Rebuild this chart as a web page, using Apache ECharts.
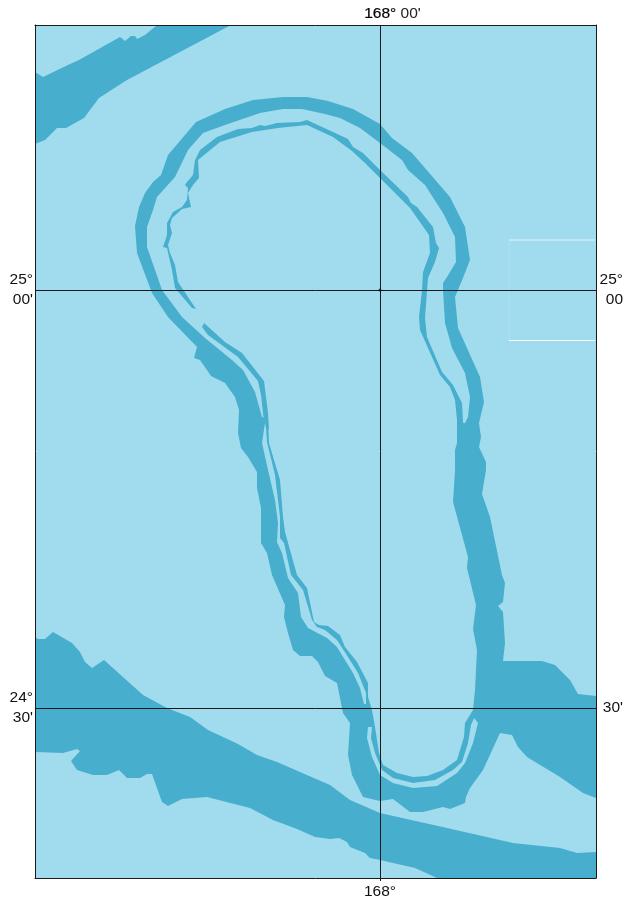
<!DOCTYPE html>
<html><head><meta charset="utf-8">
<style>html,body{margin:0;padding:0;background:#fff}#c{width:623px;height:901px}</style>
<script src="https://cdn.jsdelivr.net/npm/echarts@6/dist/echarts.min.js"></script>
</head><body><div id="c"></div>
<script>
// Map grid units: easting from 168 deg, northing from 25 deg; 418 units = 30 minutes of latitude.
const eastExtent = [-345, 216];
const northExtent = [-588, 265];
const lonTicks = [0];
const latTicks = [0, -418];
const bottomLabels = ["168°"];
const leftLabels = ["25°\n00'", "24°\n30'"];
const rightLabels = ["25°\n00", "30'"];

const shelfNorthwest = [[-345,218],[-337,213],[-310,226],[-301,230],[-260,253],[-255,249],[-249,254],[-245,254],[-243,251],[-235,255],[-224,264],[-224,265],[-149,265],[-253,210],[-281,192],[-296,172],[-314,162],[-323,162],[-335,150],[-345,146]];
const ringOuter = [[-97,193],[-73,193],[-52,189],[-27,181],[0,166],[12,152],[32,137],[70,93],[85,63],[90,30],[83,12],[75,-7],[78,-38],[100,-87],[104,-112],[99,-133],[101,-147],[99,-157],[106,-172],[106,-180],[102,-204],[110,-227],[122,-285],[125,-293],[123,-312],[118,-316],[123,-322],[125,-353],[123,-371],[123,-410],[120,-443],[103,-480],[90,-498],[86,-507],[85,-513],[70,-519],[63,-517],[43,-522],[30,-522],[13,-509],[0,-511],[-17,-507],[-28,-485],[-32,-465],[-30,-433],[-37,-423],[-43,-393],[-55,-386],[-62,-372],[-68,-366],[-80,-366],[-87,-360],[-92,-343],[-96,-327],[-95,-315],[-108,-285],[-113,-263],[-119,-253],[-119,-218],[-123,-198],[-123,-182],[-132,-167],[-139,-158],[-142,-143],[-141,-120],[-145,-107],[-155,-93],[-169,-86],[-180,-70],[-186,-68],[-183,-57],[-212,-27],[-228,-3],[-243,37],[-245,64],[-241,83],[-235,97],[-227,108],[-219,115],[-212,135],[-184,168],[-155,181],[-127,190]];
const ringHollow = [[-97,181],[-78,181],[-55,176],[-40,172],[-20,162],[0,147],[22,130],[28,120],[45,105],[63,77],[75,53],[76,28],[67,13],[63,7],[63,0],[65,-33],[72,-58],[85,-83],[90,-107],[88,-127],[85,-133],[77,-135],[77,-153],[75,-160],[75,-180],[73,-212],[88,-267],[87,-278],[96,-315],[93,-339],[97,-360],[95,-400],[93,-420],[85,-433],[84,-447],[77,-470],[63,-480],[47,-486],[33,-487],[17,-483],[3,-475],[-1,-463],[-5,-437],[-8,-420],[-12,-407],[-12,-393],[-23,-372],[-35,-357],[-40,-345],[-52,-336],[-61,-335],[-66,-332],[-73,-298],[-83,-285],[-95,-242],[-97,-227],[-100,-190],[-111,-153],[-112,-130],[-118,-127],[-125,-102],[-137,-80],[-148,-70],[-175,-48],[-198,-27],[-218,0],[-233,43],[-233,63],[-227,80],[-223,93],[-205,113],[-192,140],[-177,157],[-155,165],[-120,177]];
const thinUpper = [[-184,-19],[-188,-18],[-205,2],[-208,20],[-213,42],[-217,43],[-213,55],[-213,67],[-207,78],[-198,83],[-193,90],[-192,102],[-195,105],[-193,108],[-187,115],[-185,130],[-180,140],[-163,153],[-142,161],[-128,162],[-120,165],[-115,164],[-103,167],[-80,168],[-73,170],[-47,158],[-32,151],[-27,143],[-17,137],[0,120],[28,93],[31,87],[37,83],[53,63],[56,47],[59,42],[55,28],[48,12],[45,-28],[47,-47],[62,-82],[73,-95],[82,-113],[83,-132],[85,-136],[77,-136],[77,-130],[75,-110],[70,-97],[60,-85],[40,-40],[39,-27],[42,0],[43,18],[50,37],[49,55],[35,75],[30,82],[0,112],[-15,127],[-28,139],[-47,153],[-73,165],[-102,162],[-128,158],[-160,148],[-182,130],[-181,112],[-187,105],[-192,97],[-189,83],[-198,81],[-208,72],[-210,65],[-208,57],[-212,45],[-210,37],[-205,25],[-202,8]];
const thinLower = [[-176,-33],[-155,-52],[-138,-63],[-116,-91],[-112,-123],[-111,-140],[-116,-132],[-119,-105],[-122,-91],[-142,-67],[-172,-45],[-178,-37]];
const stripeLeft = [[-115,-133],[-118,-153],[-112,-180],[-105,-210],[-102,-233],[-103,-252],[-98,-263],[-92,-288],[-82,-303],[-79,-327],[-72,-338],[-53,-348],[-43,-357],[-27,-383],[-20,-398],[-16,-414],[-14,-414],[-14,-403],[-22,-383],[-32,-367],[-43,-350],[-55,-340],[-63,-337],[-68,-330],[-77,-300],[-89,-285],[-96,-253],[-100,-248],[-100,-227],[-105,-185],[-113,-152],[-114,-138]];
const stripeU = [[94,-428],[98,-433],[93,-453],[85,-473],[77,-483],[57,-496],[33,-498],[13,-493],[0,-485],[-8,-467],[-13,-448],[-12,-437],[-8,-437],[-9,-448],[-5,-463],[2,-480],[13,-488],[33,-493],[55,-490],[73,-480],[82,-472],[88,-453],[91,-435]];
const shelfSouth = [[-345,-347],[-342,-349],[-335,-349],[-327,-342],[-308,-353],[-300,-362],[-295,-372],[-288,-378],[-276,-370],[-237,-405],[-213,-418],[-190,-427],[-172,-440],[-142,-454],[-123,-465],[-103,-472],[-80,-482],[-50,-495],[-30,-510],[0,-523],[67,-538],[133,-553],[180,-558],[197,-563],[216,-562],[216,-588],[57,-588],[35,-578],[0,-570],[-10,-568],[-15,-563],[-30,-557],[-33,-552],[-41,-548],[-50,-549],[-65,-547],[-83,-539],[-107,-530],[-130,-518],[-173,-507],[-198,-509],[-212,-516],[-218,-512],[-228,-484],[-233,-484],[-240,-488],[-253,-488],[-261,-480],[-273,-485],[-287,-485],[-303,-480],[-309,-471],[-300,-461],[-303,-459],[-317,-463],[-345,-462]];
const shelfEast = [[105,-371],[148,-371],[162,-371],[175,-375],[190,-390],[198,-404],[216,-406],[216,-508],[203,-503],[180,-487],[147,-467],[138,-457],[132,-445],[120,-443],[105,-460]];
const insetTop = [[129,50],[215,50]];
const insetBottom = [[129,-50.5],[215,-50.5]];
const insetSide = [[129,50],[129,-50]];
const centreDot = [[0,0]];

const DEEP = '#48aecd', SHALLOW = '#a0dcee', INK = '#1a1a1a';
const FONT = '"Liberation Sans", Arial, sans-serif';
const SIZE = 15.5;

function area(poly, color, z) {
  return {
    type: 'custom', coordinateSystem: 'cartesian2d', silent: true, z: z, animation: false,
    data: [[poly[0][0], poly[0][1]]],
    renderItem: function (params, api) {
      return { type: 'polygon', shape: { points: poly.map(p => api.coord(p)) }, style: { fill: color } };
    }
  };
}
function rule(pts, color) {
  return { type: 'line', data: pts, symbol: 'none', silent: true, z: 4, animation: false, lineStyle: { color: color, width: 1 } };
}
const lineStyle = { color: INK, width: 1 };
const base = { type: 'value', scale: false, z: 10, splitArea: { show: false }, axisLine: { show: true, onZero: false, lineStyle: lineStyle } };

const chart = echarts.init(document.getElementById('c'), null, { renderer: 'canvas' });
chart.setOption({
  animation: false,
  backgroundColor: '#fff',
  grid: { left: 35, top: 25, width: 561, height: 853, show: true, backgroundColor: SHALLOW, borderWidth: 0, outerBoundsMode: 'none' },
  xAxis: [
    Object.assign({}, base, { position: 'bottom', min: eastExtent[0], max: eastExtent[1],
      splitLine: { show: true, lineStyle: lineStyle },
      axisTick: { show: true, length: 3, customValues: lonTicks, lineStyle: lineStyle },
      axisLabel: { customValues: lonTicks, margin: 6, color: '#111', fontFamily: FONT, fontSize: SIZE,
        formatter: v => bottomLabels[lonTicks.indexOf(v)] } }),
    Object.assign({}, base, { position: 'top', min: eastExtent[0], max: eastExtent[1],
      splitLine: { show: false }, axisTick: { show: false, customValues: lonTicks },
      axisLabel: { customValues: lonTicks, margin: 3, color: '#111', fontFamily: FONT, fontSize: SIZE,
        formatter: () => "{p|}{b|168°}{r| 00'}",
        rich: { p: { width: 25 },
                b: { fontFamily: FONT, fontSize: SIZE, color: '#000', textBorderColor: '#000', textBorderWidth: 0.2 },
                r: { fontFamily: FONT, fontSize: SIZE, color: '#222' } } } })
  ],
  yAxis: [
    Object.assign({}, base, { position: 'left', min: northExtent[0], max: northExtent[1],
      splitLine: { show: true, lineStyle: lineStyle },
      axisTick: { show: false, customValues: latTicks },
      axisLabel: { customValues: latTicks, margin: 2, align: 'right', lineHeight: 20, padding: [2, 0, 0, 0], color: '#111', fontFamily: FONT, fontSize: SIZE,
        formatter: v => leftLabels[latTicks.indexOf(v)] } }),
    Object.assign({}, base, { position: 'right', min: northExtent[0], max: northExtent[1],
      splitLine: { show: false }, axisTick: { show: false, customValues: latTicks },
      axisLabel: { customValues: latTicks, margin: 27, align: 'right', lineHeight: 20, padding: [1, 0, 0, 0], color: '#111', fontFamily: FONT, fontSize: SIZE,
        formatter: v => rightLabels[latTicks.indexOf(v)] } })
  ],
  series: [
    area(shelfNorthwest, DEEP, 2),
    area(shelfSouth, DEEP, 2),
    area(shelfEast, DEEP, 2),
    area(ringOuter, DEEP, 2.1),
    area(ringHollow, SHALLOW, 2.2),
    area(thinUpper, DEEP, 2.3),
    area(thinLower, DEEP, 2.3),
    area(stripeLeft, SHALLOW, 2.4),
    area(stripeU, SHALLOW, 2.4),
    rule(insetTop, '#e4f5fa'),
    rule(insetBottom, '#ffffff'),
    rule(insetSide, 'rgba(255,255,255,0.15)'),
    { type: 'scatter', data: centreDot, symbolSize: 3, silent: true, z: 11, itemStyle: { color: '#111' }, animation: false }
  ]
});
</script></body></html>
